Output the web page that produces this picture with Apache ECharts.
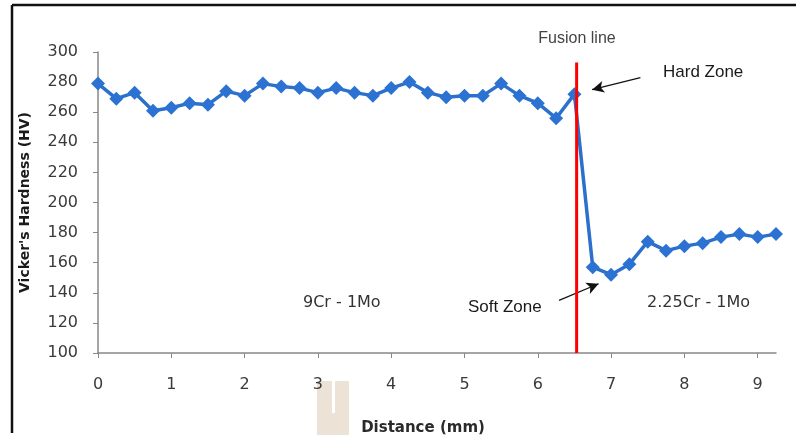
<!DOCTYPE html>
<html>
<head>
    <meta charset="utf-8" />
    <title>Vicker's Hardness</title>
    <script src="https://cdn.jsdelivr.net/npm/echarts@6/dist/echarts.min.js"></script>
    <style>
        html, body { margin: 0; padding: 0; background: #fff; }
        #main { width: 796px; height: 435px; }
    </style>
</head>
<body>
    <div id="main"></div>
    <script type="text/javascript">
        // distance along the traverse (mm)
        var distance = [0, 0.25, 0.5, 0.75, 1, 1.25, 1.5, 1.75, 2, 2.25, 2.5, 2.75, 3, 3.25, 3.5, 3.75,
            4, 4.25, 4.5, 4.75, 5, 5.25, 5.5, 5.75, 6, 6.25, 6.5, 6.75, 7, 7.25, 7.5, 7.75,
            8, 8.25, 8.5, 8.75, 9, 9.25];
        // hardness readings (HV)
        var hardness = [279, 269, 273, 261, 263, 266, 265, 274, 271, 279, 277, 276, 273, 276, 273, 271,
            276, 280, 273, 270, 271, 271, 279, 271, 266, 256, 272, 157, 152, 159, 174, 168,
            171, 173, 177, 179, 177, 179];
        var xTicks = [0, 1, 2, 3, 4, 5, 6, 7, 8, 9];

        // fusion line position
        var fusionX = 6.53;
        var fusionTop = 293;

        // annotation arrows: [from, to] in data units
        var hardArrow = [[7.40, 283], [6.74, 275]];
        var softArrow = [[6.29, 135], [6.83, 146]];

        var points = [];
        for (var i = 0; i < distance.length; i++) {
            points.push([distance[i], hardness[i]]);
        }

        var myChart = echarts.init(document.getElementById('main'));

        var labelFont = 'DejaVu Sans';
        var noteFont = 'Liberation Sans';

        myChart.setOption({
            animation: false,
            backgroundColor: '#ffffff',
            grid: {
                left: 98,
                right: 20,
                top: 52,
                bottom: 82,
                outerBoundsMode: 'none',
                containLabel: false
            },
            xAxis: {
                type: 'value',
                min: 0,
                max: 9.25,
                interval: 1,
                name: 'Distance (mm)',
                nameLocation: 'middle',
                nameGap: 68,
                nameTextStyle: {
                    fontFamily: labelFont,
                    fontWeight: 'bold',
                    fontSize: 15,
                    color: '#2a2a2a',
                    padding: [0, 28, 0, 0]
                },
                splitLine: { show: false },
                axisLine: { lineStyle: { color: '#888', width: 1.5 } },
                axisTick: { show: true, length: 5, lineStyle: { color: '#888' }, customValues: xTicks },
                axisLabel: {
                    customValues: xTicks,
                    margin: 24,
                    fontFamily: labelFont,
                    fontSize: 16,
                    color: '#3a3a3a'
                }
            },
            yAxis: {
                type: 'value',
                min: 100,
                max: 300,
                interval: 20,
                name: "Vicker's Hardness (HV)",
                nameLocation: 'middle',
                nameGap: 66,
                nameTextStyle: {
                    fontFamily: labelFont,
                    fontWeight: 'bold',
                    fontSize: 14,
                    color: '#1a1a1a'
                },
                splitLine: { show: false },
                axisLine: { show: true, lineStyle: { color: '#888', width: 1.5 } },
                axisTick: { show: true, length: 5, lineStyle: { color: '#888' } },
                axisLabel: {
                    margin: 20,
                    fontFamily: labelFont,
                    fontSize: 16,
                    color: '#3a3a3a'
                }
            },
            series: [
                {
                    name: 'Hardness',
                    type: 'line',
                    data: points,
                    symbol: 'diamond',
                    symbolSize: 14,
                    z: 2,
                    lineStyle: { color: '#2b70cc', width: 3.5 },
                    itemStyle: { color: '#2b72d2' }
                },
                {
                    name: 'Fusion line',
                    type: 'line',
                    data: [[fusionX, 100], [fusionX, fusionTop]],
                    symbol: 'none',
                    z: 5,
                    lineStyle: { color: '#ff0000', width: 3 }
                },
                {
                    name: 'Arrows',
                    type: 'line',
                    data: [],
                    markLine: {
                        silent: true,
                        symbol: ['none', 'arrow'],
                        symbolSize: [9, 12],
                        label: { show: false },
                        lineStyle: { color: '#111', width: 1.2, type: 'solid' },
                        data: [
                            [{ coord: hardArrow[0] }, { coord: hardArrow[1] }],
                            [{ coord: softArrow[0] }, { coord: softArrow[1] }]
                        ]
                    }
                }
            ],
            graphic: [
                // outer frame (top and left)
                { type: 'line', shape: { x1: 12, y1: 5, x2: 796, y2: 5 }, style: { stroke: '#111', lineWidth: 2.5 } },
                { type: 'line', shape: { x1: 12, y1: 5, x2: 12, y2: 433 }, style: { stroke: '#111', lineWidth: 2.5 } },
                // scan artefact below the axis
                { type: 'rect', shape: { x: 317, y: 381, width: 32, height: 54 }, style: { fill: '#ece3d6' } },
                { type: 'rect', shape: { x: 332, y: 381, width: 3, height: 32 }, style: { fill: '#ffffff' } },
                {
                    type: 'text', x: 577, y: 39, z: 10,
                    style: { text: 'Fusion line', font: '16px ' + noteFont, fill: '#444', align: 'center', verticalAlign: 'middle' }
                },
                {
                    type: 'text', x: 663, y: 72, z: 10,
                    style: { text: 'Hard Zone', font: '17px ' + noteFont, fill: '#1a1a1a', align: 'left', verticalAlign: 'middle' }
                },
                {
                    type: 'text', x: 468, y: 307, z: 10,
                    style: { text: 'Soft Zone', font: '17px ' + noteFont, fill: '#1a1a1a', align: 'left', verticalAlign: 'middle' }
                },
                {
                    type: 'text', x: 303, y: 303, z: 10,
                    style: { text: '9Cr - 1Mo', font: '16px ' + labelFont, fill: '#333', align: 'left', verticalAlign: 'middle' }
                },
                {
                    type: 'text', x: 647, y: 303, z: 10,
                    style: { text: '2.25Cr - 1Mo', font: '16px ' + labelFont, fill: '#333', align: 'left', verticalAlign: 'middle' }
                }
            ]
        });
    </script>
</body>
</html>
